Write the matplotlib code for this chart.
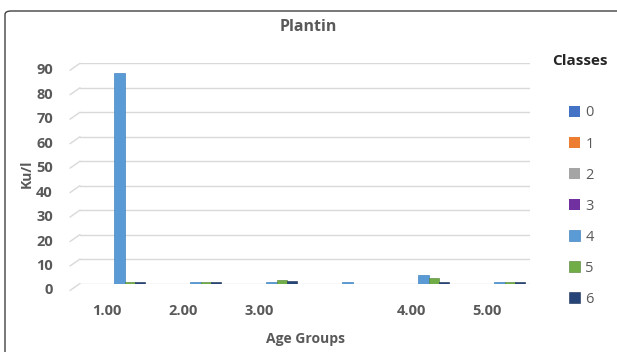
import numpy as np
import matplotlib
matplotlib.use('Agg')
import matplotlib.pyplot as plt
import matplotlib.transforms as mtransforms
from matplotlib.patches import FancyBboxPatch

plt.rcParams['font.family'] = ['Open Sans', 'DejaVu Sans']

# data
groups = ['1.00', '2.00', '3.00', '', '4.00', '5.00']
classes = ['0', '1', '2', '3', '4', '5', '6']
class0 = [0, 0, 0, 0, 0, 0]
class1 = [0, 0, 0, 0, 0, 0]
class2 = [0, 0, 0, 0, 0, 0]
class3 = [0, 0, 0, 0, 0, 0]
class4 = [86, 0.6, 0.6, 0.6, 3.5, 0.6]
class5 = [0.5, 0.7, 1.3, 0, 2.2, 0.7]
class6 = [0.8, 0.8, 0.9, 0, 0.8, 0.8]
series = [class0, class1, class2, class3, class4, class5, class6]
colors = ['#4472C4', '#ED7D31', '#A5A5A5', '#7030A0', '#5B9BD5', '#70AD47', '#264478']
edges = ['#2F5597', '#C55A11', '#7F7F7F', '#4B1F6F', '#2E75B6', '#507E32', '#1A2F54']
yticks = list(range(0, 91, 10))

txt = '#595959'
W, H = 617, 352

fig = plt.figure(figsize=(W/100, H/100), dpi=100)
# chart border
fig.patches.append(FancyBboxPatch((5/W, -0.05), 1.2, 1 - 11/H + 0.05,
                                  boxstyle='round,pad=0,rounding_size=0.01',
                                  transform=fig.transFigure, fc='white',
                                  ec='#404040', lw=1.0, zorder=-1))

ax_l, ax_r, ax_b, ax_t = 80, 530, 283.5, 63.3
ax = fig.add_axes([ax_l/W, 1 - ax_b/H, (ax_r - ax_l)/W, (ax_b - ax_t)/H])
ax.set_facecolor('none')

x = np.arange(len(groups))
w = 0.135
for i, vals in enumerate(series):
    lw = 0.4 if max(vals) > 0 else 0
    ax.bar(x + (i - 3) * w + 0.03, vals, w, color=colors[i], label=classes[i],
           edgecolor=edges[i], linewidth=lw, zorder=3)

# 76 px per group, first group at x=107 px
ax.set_xlim((ax_l - 107) / 76, (ax_r - 107) / 76)
ax.set_ylim(0, 90)
ax.set_yticks(yticks)
ax.set_yticklabels([])
ax.set_xticks(x)
ax.set_xticklabels(groups)
ax.grid(axis='y', color='#D9D9D9', lw=1.0, zorder=0)
for s in ax.spines.values():
    s.set_visible(False)
ax.tick_params(length=0, labelsize=10.5, labelcolor=txt)
ax.tick_params(axis='x', pad=15)
for lab in ax.get_xticklabels():
    lab.set_fontweight('bold')

# 3D-looking floor: slanted grid starts and front-plane y labels
blend = mtransforms.blended_transform_factory(ax.transAxes, ax.transData)
for v in yticks:
    ax.annotate('', xy=(0, v), xycoords=blend, xytext=(-10, -7),
                textcoords='offset pixels',
                arrowprops=dict(arrowstyle='-', color='#D9D9D9', lw=1.0,
                                shrinkA=0, shrinkB=0))
    lt = mtransforms.offset_copy(blend, fig, x=-27, y=-7, units='dots')
    ax.text(0, v, str(v), transform=lt, ha='right', va='center',
            fontsize=10.5, color=txt, fontweight='bold')

ax.set_xlabel('Age Groups', fontsize=10, color=txt, fontweight='bold', labelpad=10)
ax.set_ylabel('Ku/l', fontsize=10, color=txt, fontweight='bold', labelpad=30)
fig.text(308/W, 1 - 27/H, 'Plantin', ha='center', va='center',
         fontsize=11.5, color=txt, fontweight='bold')

leg = ax.legend(loc='upper left', bbox_to_anchor=(1.058, 0.868), frameon=False,
                handlelength=0.75, handleheight=0.75, handletextpad=0.35,
                labelspacing=1.1, fontsize=10.5, labelcolor=txt)
fig.text(580/W, 1 - 61/H, 'Classes', ha='center', va='center',
         fontsize=11, color='#262626', fontweight='bold')

fig.savefig('out.png', dpi=100)
